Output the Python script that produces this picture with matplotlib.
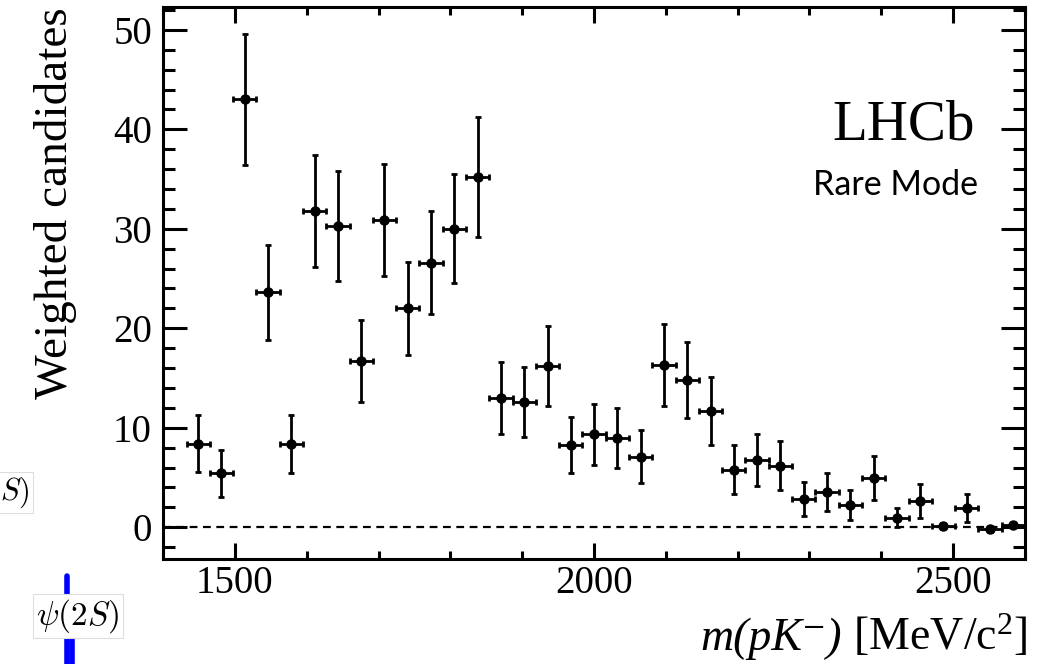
import numpy as np
import matplotlib
matplotlib.use('Agg')
import matplotlib.pyplot as plt
from matplotlib.ticker import MultipleLocator

# binning of m(pK-) spectrum (threshold to 2600)
m_low = 1432.7
m_high = 2600.0
n_bins = 36

counts = [8.4, 5.4, 43.0, 23.6, 8.35, 31.8, 30.3, 16.7, 30.9, 22.0, 26.6, 30.0,
          35.2, 13.0, 12.6, 16.2, 8.25, 9.35, 9.0, 7.1, 16.3, 14.8, 11.7, 5.8,
          6.75, 6.2, 2.8, 3.55, 2.2, 4.95, 0.95, 2.6, 0.13, 1.9, -0.23, 0.27]
errors = [2.9, 2.35, 6.6, 4.8, 2.9, 5.6, 5.5, 4.1, 5.6, 4.7, 5.2, 5.5,
          6.0, 3.65, 3.55, 4.0, 2.85, 3.05, 3.0, 2.7, 4.1, 3.85, 3.4, 2.45,
          2.6, 2.5, 1.7, 1.9, 1.5, 2.25, 0.94, 1.7, 0.3, 1.4, 0.3, 0.3]

x_ticks = [1500, 2000, 2500]
y_ticks = [0, 10, 20, 30, 40, 50]

plt.rcParams['font.family'] = ['Liberation Serif', 'DejaVu Serif']
plt.rcParams['mathtext.fontset'] = 'custom'
plt.rcParams['mathtext.rm'] = 'Liberation Serif'
plt.rcParams['mathtext.it'] = 'Liberation Serif:italic'

edges = np.linspace(m_low, m_high, n_bins + 1)
centers = 0.5 * (edges[1:] + edges[:-1])
half_width = 0.5 * (edges[1:] - edges[:-1])

fig = plt.figure(figsize=(10.41, 6.64), dpi=100)
ax = fig.add_axes([0.1566, 0.1581, 0.8280, 0.8314])

ax.axhline(0, color='black', ls=(0, (3.5, 2.5)), lw=1.6, zorder=1)
ax.errorbar(centers, counts, yerr=errors, xerr=half_width, fmt='o', color='black',
            ms=6.5, elinewidth=2.0, capsize=2.2, capthick=2.0, zorder=3)

ax.set_xlim(1400, 2600)
ax.set_ylim(-3.2, 52.3)
ax.set_xticks(x_ticks)
ax.set_yticks(y_ticks)
ax.xaxis.set_minor_locator(MultipleLocator(100))
ax.yaxis.set_minor_locator(MultipleLocator(2))

for side in ax.spines.values():
    side.set_linewidth(2.2)
ax.tick_params(which='both', direction='in', top=True, right=True, width=2.2,
               labelsize=28, colors='black')
ax.tick_params(axis='y', which='major', length=17, pad=8)
ax.tick_params(axis='y', which='minor', length=8.5)
ax.tick_params(axis='x', which='major', length=11.5, pad=4)
ax.tick_params(axis='x', which='minor', length=5.5)

ax.set_ylabel('Weighted candidates', fontsize=34, loc='top', labelpad=26)

# x title: italic mass part + upright units, right aligned at the axis end
units = fig.text(0.9866, 0.021, ' [MeV/c$^{2}$]', fontsize=33, ha='right',
                 va='baseline')
ax.annotate('m(pK\u207b)', xy=(0, 0), xycoords=units, fontsize=33,
            style='italic', ha='right', va='bottom')

ax.text(0.942, 0.785, 'LHCb', transform=ax.transAxes, fontsize=41,
        ha='right', va='center')
ax.text(0.945, 0.677, 'Rare Mode', transform=ax.transAxes, fontsize=24.5,
        ha='right', va='center', family='Lato')

# leftovers of the neighbouring figure on the slide
fig.text(0.0, 0.258, r'$S)$', fontsize=22, math_fontfamily='cm', ha='left',
         va='center', bbox=dict(boxstyle='square,pad=0.1', fc='white', ec='#dddddd', lw=0.8))
fig.add_artist(plt.Line2D([0.0645, 0.0645], [0.0, 0.132], color='#0000ff', lw=4,
                          solid_capstyle='round', transform=fig.transFigure))
fig.add_artist(plt.Line2D([0.0695, 0.0695], [0.0, 0.10], color='#0000ff', lw=4,
                          transform=fig.transFigure))
fig.text(0.075, 0.072, r'$\psi(2S)$', fontsize=24, math_fontfamily='cm', ha='center',
         va='center', bbox=dict(boxstyle='square,pad=0.1', fc='white', ec='#dddddd', lw=0.8))

fig.savefig('out.png', dpi=100)
